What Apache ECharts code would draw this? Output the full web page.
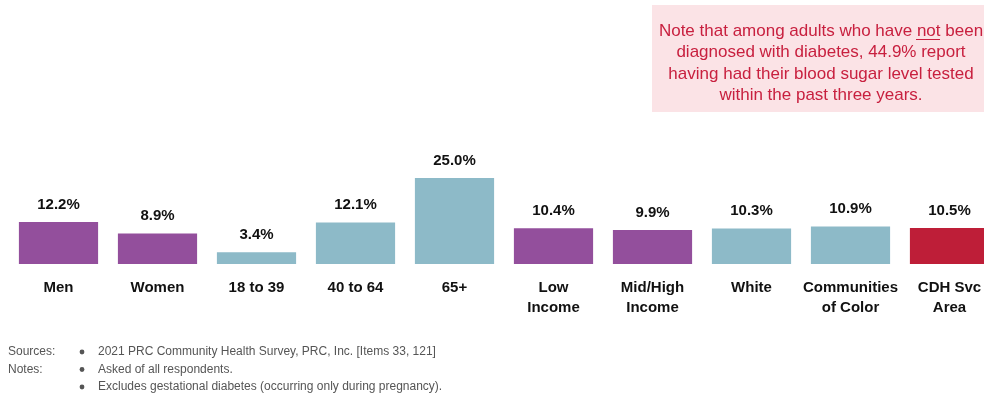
<!DOCTYPE html>
<html><head><meta charset="utf-8">
<script src="https://cdn.jsdelivr.net/npm/echarts@6/dist/echarts.min.js"></script>
<style>html,body{margin:0;padding:0;background:#fff;overflow:hidden}#c{width:999px;height:398px}</style>
</head><body><div id="c"></div>
<script>
const categories = ['Men','Women','18 to 39','40 to 64','65+','Low\nIncome','Mid/High\nIncome','White','Communities\nof Color','CDH Svc\nArea'];
const values = [12.2, 8.9, 3.4, 12.1, 25.0, 10.4, 9.9, 10.3, 10.9, 10.5];
const groups = ['sex','sex','age','age','age','income','income','race','race','total'];
const groupColors = {sex:'#934F9C', income:'#934F9C', age:'#8DBAC8', race:'#8DBAC8', total:'#BE1E38'};
const noteLines = ['Note that among adults who have not been','diagnosed with diabetes, 44.9% report','having had their blood sugar level tested','within the past three years.'];
const footer = [
  ['Sources:', '2021 PRC Community Health Survey, PRC, Inc. [Items 33, 121]'],
  ['Notes:', 'Asked of all respondents.'],
  ['', 'Excludes gestational diabetes (occurring only during pregnancy).']
];

const chart = echarts.init(document.getElementById('c'), null, {renderer:'canvas'});
const font = 'Liberation Sans, Arial, sans-serif';
const graphic = [
  {type:'rect', shape:{x:652, y:5, width:350, height:107}, style:{fill:'#FBE3E6'}, z:0},
  {type:'text', x:821, y:20.5, style:{text:noteLines.join('\n'), font:'17px ' + font, fill:'#C8203F', align:'center', verticalAlign:'top', lineHeight:21.5}, z:1},
  {type:'line', shape:{x1:916, y1:39.5, x2:940, y2:39.5}, style:{stroke:'#C8203F', lineWidth:1}, z:1}
];
footer.forEach((row, i) => {
  const y = 352 + i * 17.5;
  if (row[0]) graphic.push({type:'text', x:8, y:y, style:{text:row[0], font:'12px ' + font, fill:'#555', verticalAlign:'middle'}});
  graphic.push({type:'circle', shape:{cx:82, cy:y, r:2.4}, style:{fill:'#555'}});
  graphic.push({type:'text', x:98, y:y, style:{text:row[1], font:'12px ' + font, fill:'#555', verticalAlign:'middle'}});
});

chart.setOption({
  animation:false,
  grid:{left:9, right:0, top:178, bottom:134},
  xAxis:{type:'category', data:categories,
    axisLine:{show:false}, axisTick:{show:false},
    axisLabel:{interval:0, margin:14, fontFamily:font, fontSize:15, fontWeight:'bold', color:'#111', lineHeight:20}},
  yAxis:{type:'value', min:0, max:25, show:false, splitLine:{show:false}},
  series:[{type:'bar', barCategoryGap:'20%',
    data: values.map((v,i)=>({value:v, itemStyle:{color:groupColors[groups[i]]}})),
    label:{show:true, position:'top', distance:10, formatter:p=>p.value.toFixed(1)+'%', fontFamily:font, fontSize:15, fontWeight:'bold', color:'#111'}
  }],
  graphic: graphic
});
</script></body></html>
